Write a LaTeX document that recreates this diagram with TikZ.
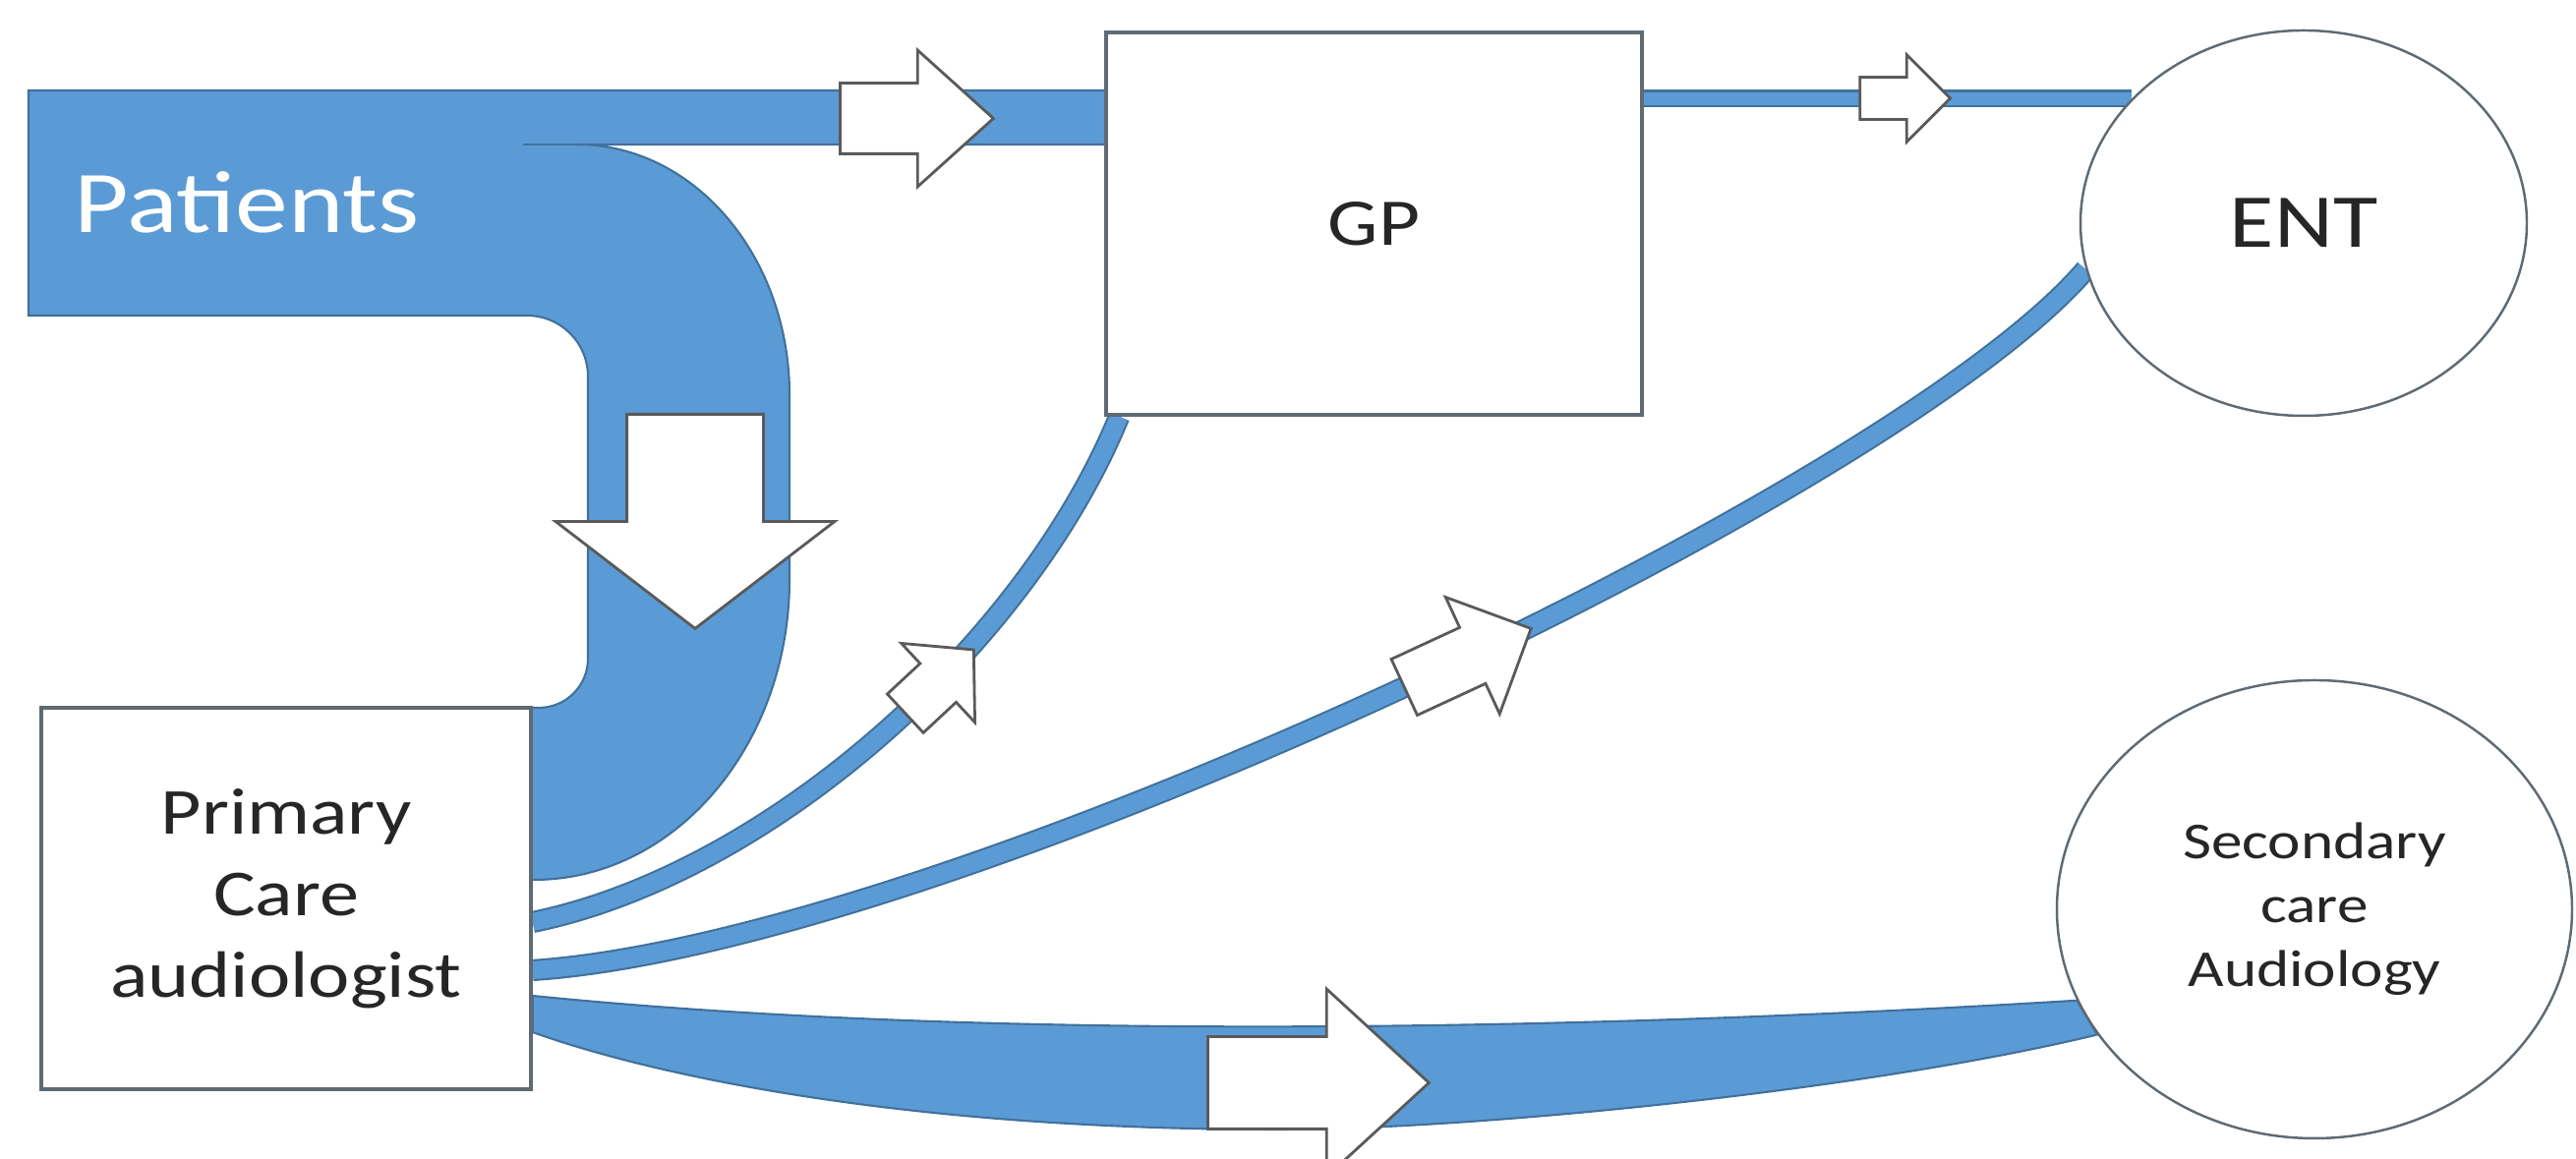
\documentclass[tikz,border=0pt]{standalone}
\usepackage{fontspec}
\setmainfont{Carlito}[FakeStretch=1.2]
\usetikzlibrary{shapes.geometric,shapes.arrows,backgrounds}

\definecolor{bandblue}{HTML}{5B9BD5}
\definecolor{banddark}{HTML}{41719C}
\definecolor{boxline}{HTML}{5F6A72}
\definecolor{arrowline}{HTML}{5A5A5A}

\tikzset{
  box/.style={draw=boxline, line width=1pt, fill=white, inner sep=0pt, text=black!85},
  oval/.style={ellipse, draw=boxline, line width=0.7pt, fill=white, inner sep=0pt, text=black!85},
  band/.style={fill=bandblue, draw=banddark, line width=0.6pt},
  flow/.style={draw=banddark, line width=0.6pt, double=bandblue, double distance=#1},
  blockarrow/.style={single arrow, draw=arrowline, fill=white, line width=0.8pt,
    inner xsep=0pt, anchor=tail, single arrow head indent=0pt}
}

\begin{document}
\begin{tikzpicture}
  \useasboundingbox (0,0) rectangle (26.2,11.79);

  % services
  \node[box, minimum width=5.45cm, minimum height=3.89cm,
    font=\fontsize{19.3}{23}\selectfont] (gp) at (13.975,9.515) {GP};
  \node[oval, minimum width=4.54cm, minimum height=3.92cm,
    font=\fontsize{22}{26}\selectfont] (ent) at (23.43,9.52) {ENT};
  \node[box, minimum width=4.98cm, minimum height=3.88cm, align=center,
    font=\fontsize{19}{23.6}\selectfont] (pca) at (2.91,2.65) {Primary\\Care\\audiologist};
  \node[oval, minimum width=5.24cm, minimum height=4.66cm, align=center,
    font=\fontsize{15}{18.5}\selectfont] (sca) at (23.54,2.54) {Secondary\\care\\Audiology};
  \node[anchor=base west, inner sep=0pt, text=white,
    font=\fontsize{25.5}{30}\selectfont] (patients) at (0.75,9.42) {Patients};

  \begin{pgfonlayer}{background}
    % patients band, bending down into the primary care box
    \filldraw[band] (0.29,10.87) -- (11.4,10.87) -- (11.4,10.32) -- (5.87,10.32)
      arc[start angle=90, end angle=0, x radius=2.16cm, y radius=2.55cm]
      -- (8.03,5.90) arc[start angle=0, end angle=-90, x radius=2.6cm, y radius=3.06cm]
      -- (5.30,2.84) -- (5.30,4.59) -- (5.48,4.59)
      arc[start angle=-90, end angle=0, radius=0.5cm]
      -- (5.98,7.96) arc[start angle=0, end angle=90, radius=0.62cm]
      -- (0.29,8.58) -- cycle;
    \draw[banddark, line width=0.6pt] (5.32,10.32) -- (5.87,10.32);
    \node[blockarrow, minimum height=1.56cm, inner ysep=0.345cm,
      single arrow head extend=0.335cm, single arrow tip angle=84] (toparrow) at (8.53,10.585) {};
    \node[blockarrow, rotate=-90, minimum height=2.18cm, inner ysep=0.68cm,
      single arrow head extend=0.725cm, single arrow tip angle=105] (downarrow) at (7.07,7.59) {};

    % referrals
    \draw[flow=0.13cm] (ent.144 -| gp.east) -- (ent.144)
      node[blockarrow, pos=0.44, minimum height=0.92cm, inner ysep=0.2cm,
        single arrow head extend=0.23cm, single arrow tip angle=90] {};
    \draw[flow=0.18cm] ([yshift=-0.24cm]pca.east) .. controls +(2.4,0.49) and +(-0.95,-2.32) .. ([xshift=0.15cm]gp.south west)
      node[blockarrow, pos=0.54, sloped, minimum height=0.95cm, inner ysep=0.255cm,
        single arrow head extend=0.28cm, single arrow tip angle=96] {};
    \draw[flow=0.18cm] ([yshift=-0.73cm]pca.east) .. controls +(4.2,0.28) and +(-1.91,-2.24) .. (ent.192)
      node[blockarrow, pos=0.505, sloped, minimum height=1.42cm, inner ysep=0.3cm,
        single arrow head extend=0.34cm, single arrow tip angle=90] {};
    \filldraw[band] ([yshift=-0.99cm]pca.east) .. controls (10,1.2) and (16,1.3) .. (sca.201)
      -- (sca.210) .. controls (19,0.7) and (15,0.3) .. (13,0.3)
      .. controls (9,0.3) and (6.5,0.9) .. ([yshift=-1.36cm]pca.east) -- cycle;
    \node[blockarrow, minimum height=2.25cm, inner ysep=0.455cm,
      single arrow head extend=0.485cm, single arrow tip angle=85] (lowarrow) at (12.27,0.775) {};
  \end{pgfonlayer}
\end{tikzpicture}
\end{document}
